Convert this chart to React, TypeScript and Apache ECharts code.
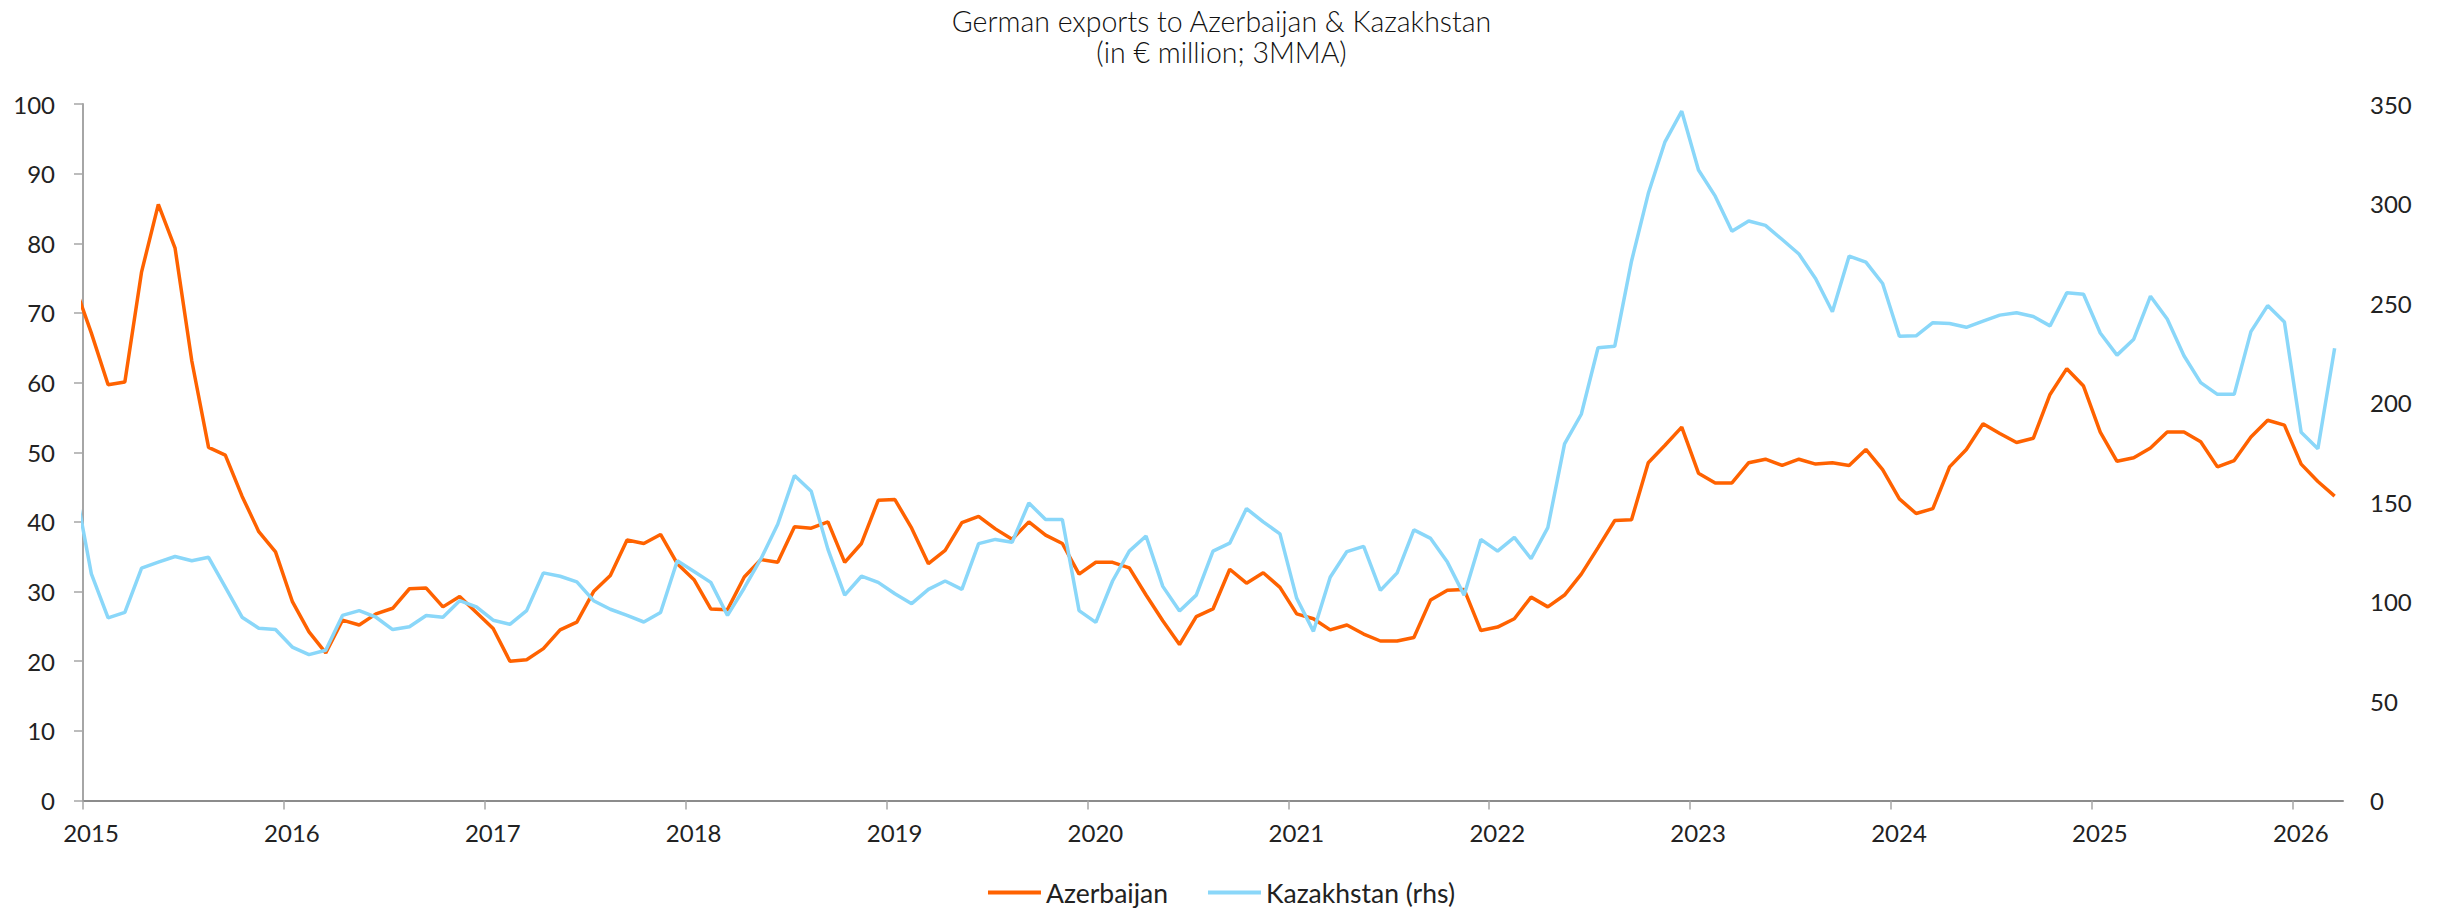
import React, { useEffect, useRef } from "react";
import * as echarts from "echarts";

// First observation (partly outside the axis, clipped like the original) is Dec 2014.
const firstYear = 2014;
const firstMonth = 12;

// German exports to Azerbaijan, € million, 3MMA (Dec 2014 … Mar 2026)
const azerbaijan = [
  73.9,
  67.1, 59.7, 60.1, 75.9, 85.6, 79.3, 63.1, 50.7, 49.6, 43.7, 38.6, 35.7,
  28.6, 24.2, 21.2, 25.9, 25.2, 26.8, 27.6, 30.4, 30.5, 27.8, 29.3, 27.0,
  24.7, 20.0, 20.2, 21.8, 24.5, 25.6, 30.0, 32.3, 37.4, 36.9, 38.2, 34.0,
  31.7, 27.5, 27.4, 32.1, 34.6, 34.2, 39.3, 39.1, 40.0, 34.2, 36.9, 43.1,
  43.2, 39.1, 34.0, 35.9, 39.9, 40.8, 39.0, 37.5, 40.0, 38.1, 36.9, 32.5,
  34.2, 34.2, 33.4, 29.5, 25.8, 22.4, 26.4, 27.5, 33.2, 31.2, 32.7, 30.6,
  26.8, 26.1, 24.5, 25.2, 23.9, 22.9, 22.9, 23.4, 28.8, 30.2, 30.3, 24.4,
  24.9, 26.1, 29.2, 27.8, 29.5, 32.5, 36.3, 40.2, 40.3, 48.5, 51.0, 53.6,
  47.0, 45.6, 45.6, 48.5, 49.0, 48.1, 49.0, 48.3, 48.5, 48.1, 50.4, 47.5,
  43.3, 41.2, 41.9, 47.9, 50.4, 54.1, 52.7, 51.4, 52.0, 58.3, 62.0, 59.5,
  52.9, 48.7, 49.2, 50.6, 52.9, 52.9, 51.5, 47.9, 48.8, 52.2, 54.6, 53.9,
  48.3, 45.8, 43.7,
];

// German exports to Kazakhstan, € million, 3MMA (Dec 2014 … Mar 2026), right axis
const kazakhstan = [
  159.0,
  113.9, 91.8, 94.5, 116.8, 119.8, 122.6, 120.5, 122.2, 107.2, 92.1, 86.6, 85.9,
  77.1, 73.3, 75.5, 93.0, 95.4, 92.1, 85.9, 87.3, 93.0, 92.1, 100.4, 97.3,
  90.6, 88.5, 95.4, 114.4, 112.7, 109.9, 100.4, 96.1, 93.0, 89.7, 94.5, 120.5,
  115.1, 109.6, 93.0, 106.8, 121.5, 138.8, 163.3, 155.4, 126.2, 103.2, 112.7, 109.6,
  103.9, 98.9, 106.1, 110.3, 106.1, 129.1, 131.2, 129.8, 149.5, 141.2, 141.2, 95.4,
  89.5, 110.3, 125.3, 132.9, 107.6, 95.2, 103.2, 125.3, 129.3, 146.7, 140.0, 134.0,
  101.6, 85.0, 112.2, 125.1, 127.7, 105.6, 114.4, 136.0, 131.7, 119.8, 103.2, 131.2,
  125.3, 132.2, 121.5, 137.1, 179.2, 194.1, 227.5, 228.3, 271.0, 305.0, 331.0, 346.4,
  316.8, 303.7, 286.0, 291.2, 289.0, 281.9, 274.6, 262.2, 245.6, 273.6, 270.5, 259.8,
  233.3, 233.5, 240.1, 239.7, 237.8, 240.9, 243.9, 245.1, 243.2, 238.5, 255.1, 254.4,
  234.9, 223.8, 231.8, 253.4, 242.0, 223.5, 210.0, 204.1, 204.1, 235.6, 248.7, 240.4,
  185.1, 176.8, 227.3,
];

const yearTicks = [2015, 2016, 2017, 2018, 2019, 2020, 2021, 2022, 2023, 2024, 2025, 2026];
const axisStart = 2015;
const axisEnd = 2026.25;

const titleLines = ["German exports to Azerbaijan & Kazakhstan", "(in € million; 3MMA)"];
const seriesNames = ["Azerbaijan", "Kazakhstan (rhs)"];

// mid-month position on a decimal-year axis
function monthPosition(k: number): number {
  const m0 = firstMonth - 1 + k;
  const y = firstYear + Math.floor(m0 / 12);
  const m = m0 % 12;
  return y + (m + 0.5) / 12;
}

const FONT = "Lato, 'Noto Sans', sans-serif";
const TEXT = "#222222";

export default function App() {
  const ref = useRef<HTMLDivElement>(null);

  useEffect(() => {
    if (!ref.current) return;
    const chart = echarts.init(ref.current, undefined, { renderer: "svg" });
    chart.setOption({
      animation: false,
      backgroundColor: "#ffffff",
      textStyle: { fontFamily: FONT },
      title: {
        text: titleLines.join("\n"),
        left: "center",
        top: 0,
        textStyle: {
          fontFamily: FONT,
          fontSize: 28.5,
          fontWeight: 300,
          color: "#111111",
          lineHeight: 31,
        },
      },
      legend: {
        data: seriesNames,
        left: "center",
        top: 874,
        icon: "rect",
        itemWidth: 53,
        itemHeight: 4,
        itemGap: 40,
        textStyle: { fontFamily: FONT, fontSize: 26.5, fontWeight: 400, color: TEXT },
      },
      grid: { left: 83, right: 100, top: 104, bottom: 110.5, containLabel: false },
      xAxis: {
        type: "value",
        min: axisStart,
        max: axisEnd,
        splitLine: { show: false },
        axisLine: { show: true, lineStyle: { color: "#8c8c8c", width: 2 } },
        axisTick: {
          show: true,
          customValues: yearTicks,
          length: 9,
          lineStyle: { color: "#a6a6a6", width: 1.5 },
        },
        axisLabel: {
          customValues: yearTicks,
          formatter: (v: number) => String(Math.round(v)),
          fontFamily: FONT,
          fontSize: 24,
          fontWeight: 400,
          color: TEXT,
          margin: 20,
          padding: [0, 0, 0, 16],
        },
      },
      yAxis: [
        {
          type: "value",
          min: 0,
          max: 100,
          interval: 10,
          splitLine: { show: false },
          axisLine: { show: true, lineStyle: { color: "#a6a6a6", width: 2 } },
          axisTick: { show: true, length: 9, lineStyle: { color: "#a6a6a6", width: 1.5 } },
          axisLabel: {
            fontFamily: FONT,
            fontSize: 24,
            fontWeight: 400,
            color: TEXT,
            margin: 28,
          },
        },
        {
          type: "value",
          min: 0,
          max: 350,
          interval: 50,
          position: "right",
          splitLine: { show: false },
          axisLine: { show: false },
          axisTick: { show: false },
          axisLabel: {
            fontFamily: FONT,
            fontSize: 24,
            fontWeight: 400,
            color: TEXT,
            margin: 27,
          },
        },
      ],
      series: [
        {
          name: seriesNames[0],
          type: "line",
          yAxisIndex: 0,
          data: azerbaijan.map((v, k) => [monthPosition(k), v]),
          showSymbol: false,
          symbol: "none",
          clip: true,
          lineStyle: { color: "#ff6200", width: 3.5 },
          itemStyle: { color: "#ff6200" },
        },
        {
          name: seriesNames[1],
          type: "line",
          yAxisIndex: 1,
          data: kazakhstan.map((v, k) => [monthPosition(k), v]),
          showSymbol: false,
          symbol: "none",
          clip: true,
          lineStyle: { color: "#8ad7f9", width: 3.5 },
          itemStyle: { color: "#8ad7f9" },
        },
      ],
    });
    return () => chart.dispose();
  }, []);

  return (
    <div
      ref={ref}
      style={{ position: "absolute", left: 0, top: 0, width: 2443, height: 911 }}
    />
  );
}
